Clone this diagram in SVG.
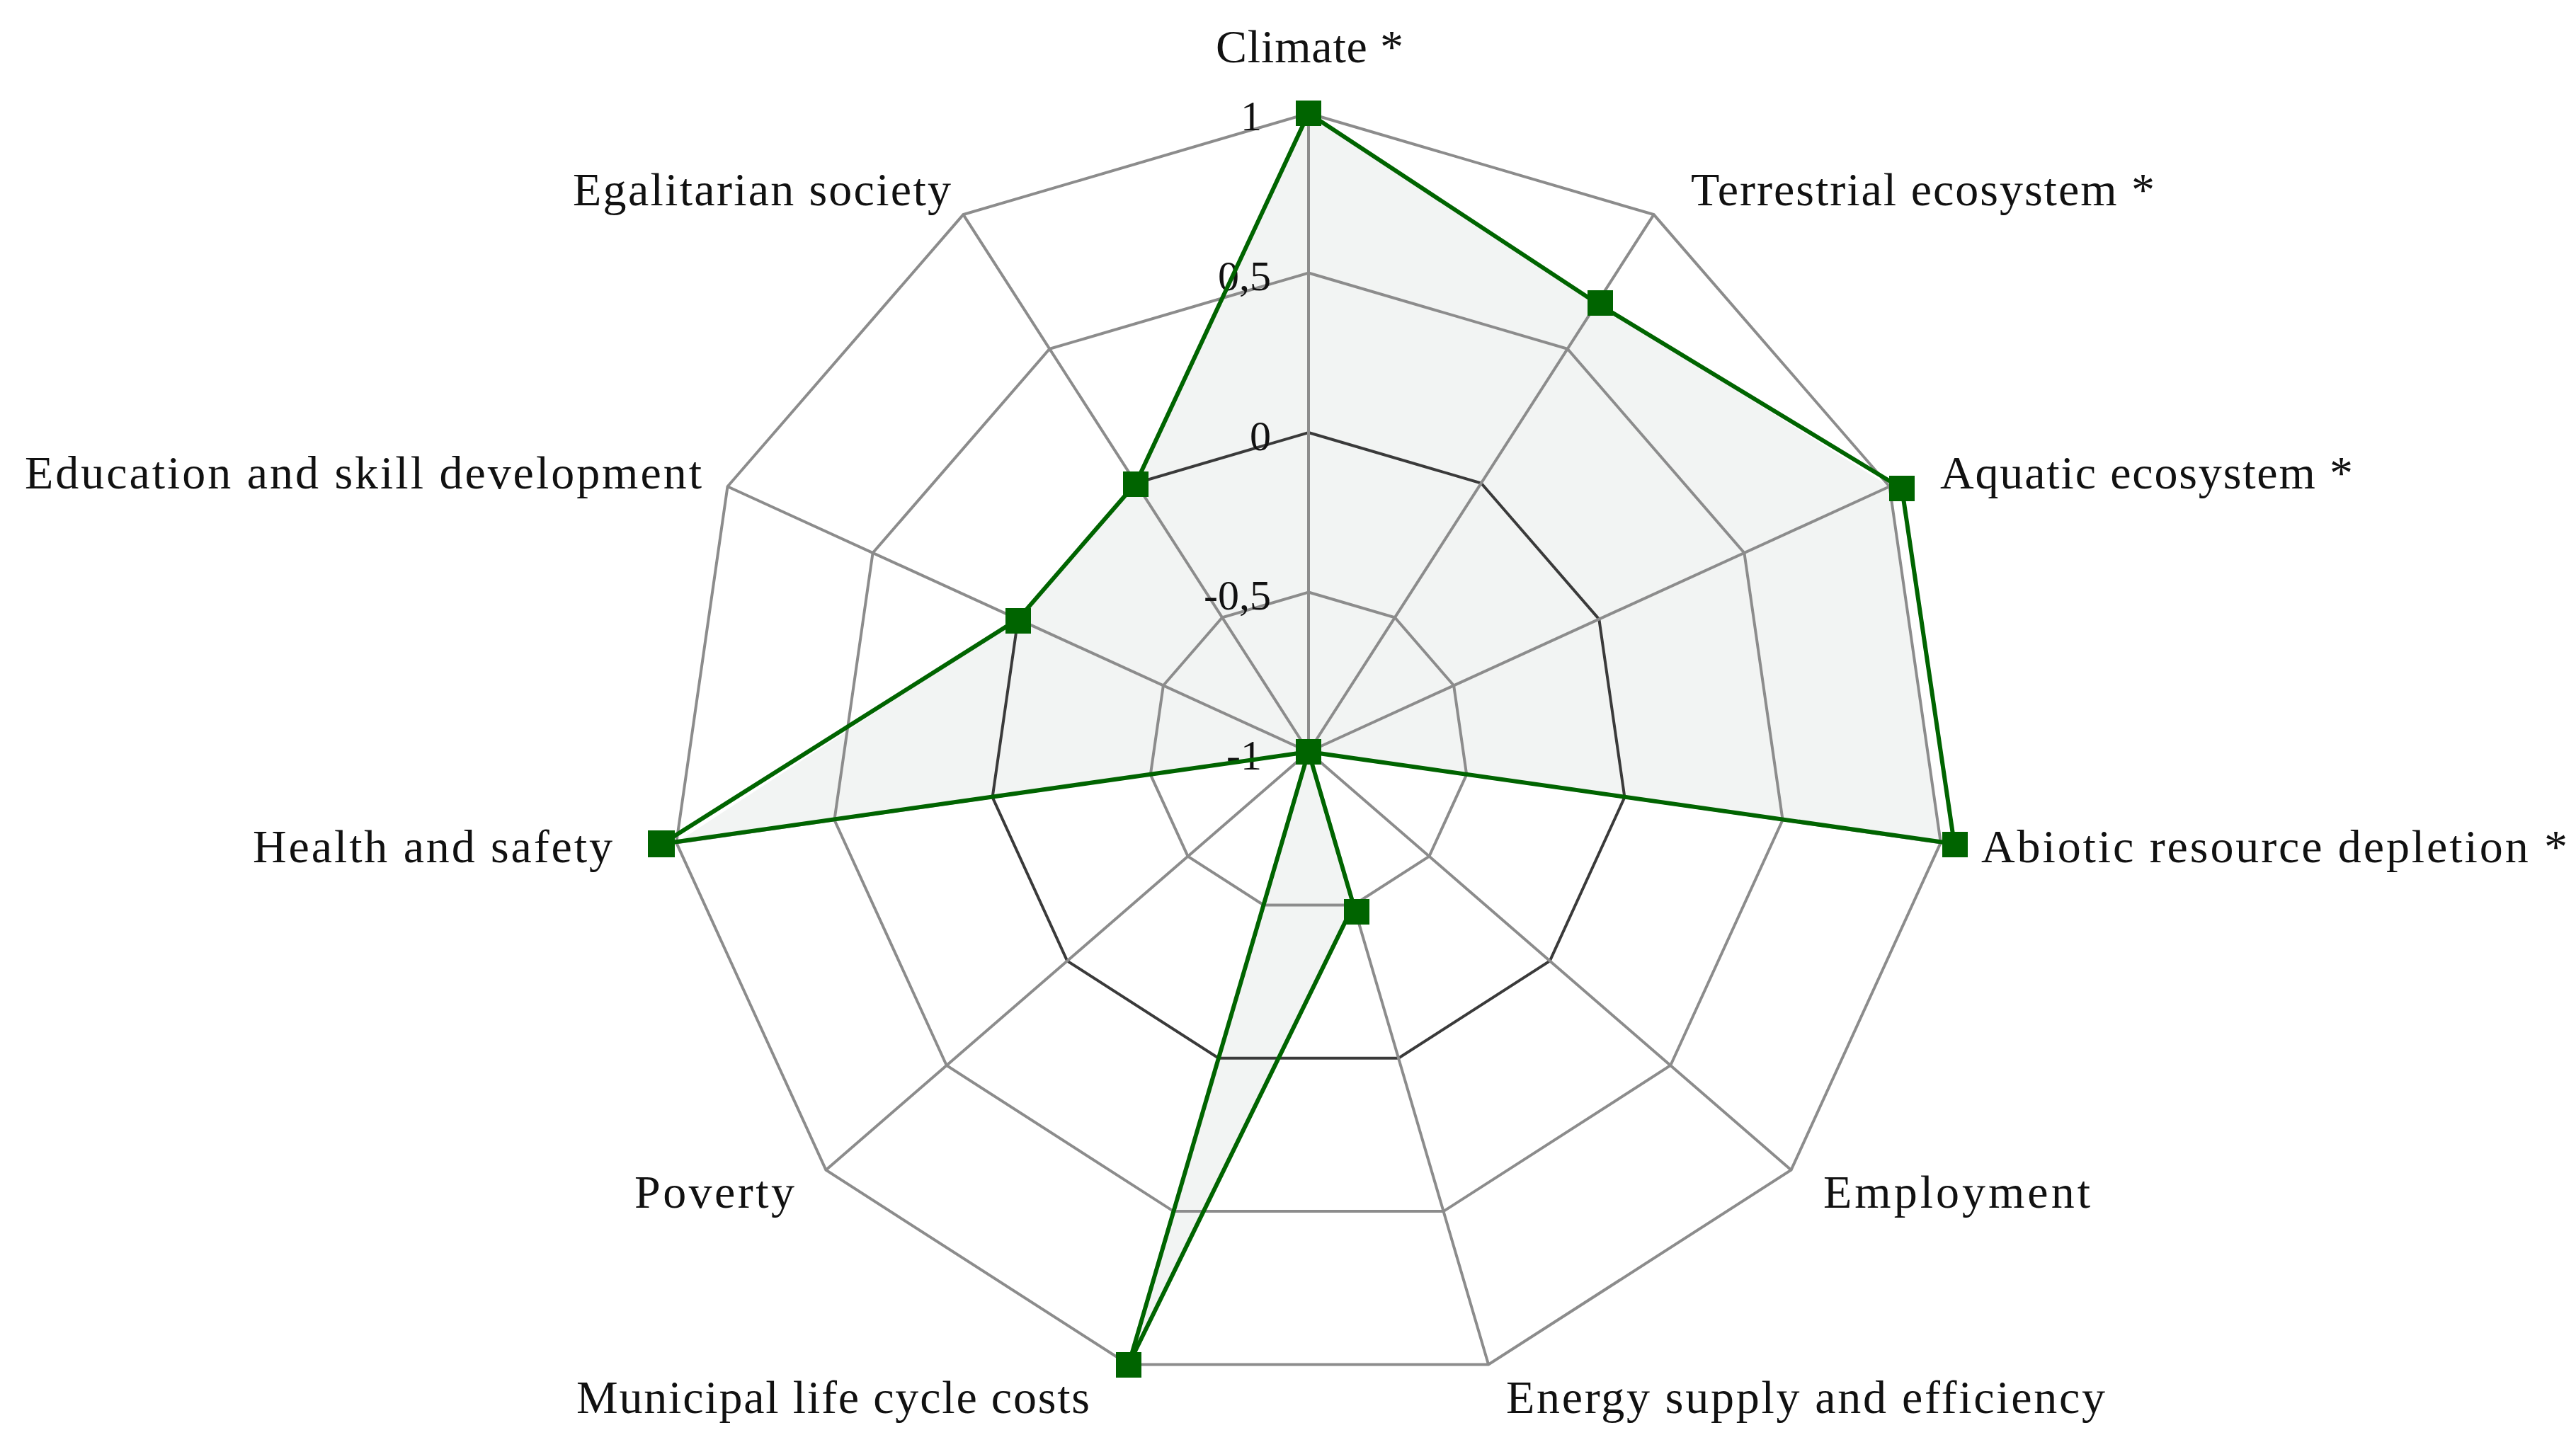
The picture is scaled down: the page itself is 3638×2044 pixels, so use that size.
<svg xmlns="http://www.w3.org/2000/svg" width="3638" height="2044" viewBox="0 0 3638 2044">
<style>
.grid{fill:none;stroke:#8c8c8c;stroke-width:4}
.zero{fill:none;stroke:#3a3a3a;stroke-width:4}
.lbl{font-family:"Liberation Serif",serif;font-size:66px;fill:#111}
.tick{font-family:"Liberation Serif",serif;font-size:60px;fill:#111;text-anchor:end}
.m{fill:#006400}
</style>
<rect width="3638" height="2044" fill="#fff"/>
<polygon points="1848,160 2255.1,428.3 2668.5,687.3 2740.8,1190.4 1848,1062 1911.5,1278.4 1593.9,1927.5 1848,1062 955.2,1190.4 1437.7,874.6 1604.2,682.5" fill="#f2f4f3" stroke="none"/>
<g id="grid">
<polygon class="grid" points="1848,836.5 1969.9,872.3 2053.1,968.3 2071.2,1094.1 2018.4,1209.7 1911.5,1278.4 1784.5,1278.4 1677.6,1209.7 1624.8,1094.1 1642.9,968.3 1726.1,872.3"/>
<polygon class="zero" points="1848,611 2091.8,682.5 2258.3,874.6 2294.4,1126.2 2188.8,1357.4 1975.1,1494.8 1720.9,1494.8 1507.2,1357.4 1401.6,1126.2 1437.7,874.6 1604.2,682.5"/>
<polygon class="grid" points="1848,385.5 2213.7,492.8 2463.4,781 2517.6,1158.3 2359.2,1505 2038.6,1711.1 1657.4,1711.1 1336.8,1505 1178.4,1158.3 1232.6,781 1482.3,492.8"/>
<polygon class="grid" points="1848,160 2335.6,303.1 2668.5,687.3 2740.8,1190.4 2529.6,1652.7 2102.1,1927.5 1593.9,1927.5 1166.4,1652.7 955.2,1190.4 1027.5,687.3 1360.4,303.1"/>
<path class="grid" d="M1848,1062L1848,160M1848,1062L2335.6,303.1M1848,1062L2668.5,687.3M1848,1062L2740.8,1190.4M1848,1062L2529.6,1652.7M1848,1062L2102.1,1927.5M1848,1062L1593.9,1927.5M1848,1062L1166.4,1652.7M1848,1062L955.2,1190.4M1848,1062L1027.5,687.3M1848,1062L1360.4,303.1"/>
</g>
<g id="ticks">
<text class="tick" x="1782" y="184">1</text>
<text class="tick" x="1795" y="410">0,5</text>
<text class="tick" x="1795" y="636">0</text>
<text class="tick" x="1795" y="861">-0,5</text>
<text class="tick" x="1782" y="1087">-1</text>
</g>
<g id="connectors">
<polygon points="1848,160 2255.1,428.3 2686,690 2760,1192 1848,1062 1911.5,1278.4 1593.9,1927.5 1848,1062 935,1192 1437.7,874.6 1604.2,682.5" fill="none" stroke="#006400" stroke-width="6" stroke-linejoin="miter"/>
</g>
<g id="markers">
<rect class="m" x="1830" y="142" width="36" height="36"/>
<rect class="m" x="2242" y="410" width="36" height="36"/>
<rect class="m" x="2668" y="672" width="36" height="36"/>
<rect class="m" x="2743" y="1175" width="36" height="36"/>
<rect class="m" x="1830" y="1044" width="36" height="36"/>
<rect class="m" x="1898" y="1270" width="36" height="36"/>
<rect class="m" x="1576" y="1910" width="36" height="36"/>
<rect class="m" x="915" y="1173" width="38" height="38"/>
<rect class="m" x="1420" y="859" width="36" height="36"/>
<rect class="m" x="1586" y="666" width="36" height="36"/>
</g>
<g id="labels">
<text class="lbl" x="1717" y="88" textLength="265">Climate *</text>
<text class="lbl" x="2388" y="290" textLength="655">Terrestrial ecosystem *</text>
<text class="lbl" x="2740" y="690" textLength="583">Aquatic ecosystem *</text>
<text class="lbl" x="2798" y="1218" textLength="828">Abiotic resource depletion *</text>
<text class="lbl" x="2575" y="1706" textLength="377">Employment</text>
<text class="lbl" x="2127" y="1996" textLength="846">Energy supply and efficiency</text>
<text class="lbl" x="814" y="1996" textLength="725">Municipal life cycle costs</text>
<text class="lbl" x="896" y="1706" textLength="226">Poverty</text>
<text class="lbl" x="357" y="1218" textLength="508">Health and safety</text>
<text class="lbl" x="35" y="690" textLength="956">Education and skill development</text>
<text class="lbl" x="809" y="290" textLength="534">Egalitarian society</text>
</g>
</svg>
